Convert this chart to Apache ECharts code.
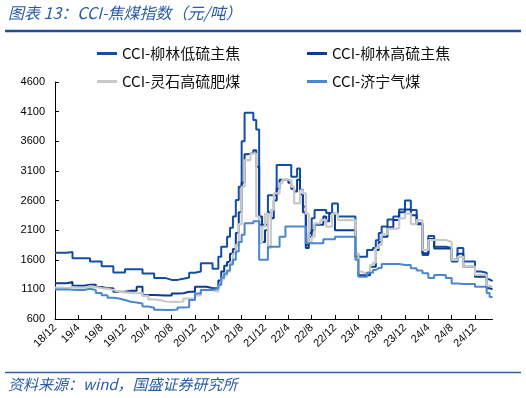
<!DOCTYPE html>
<html><head><meta charset="utf-8">
<script src="https://cdn.jsdelivr.net/npm/echarts@6/dist/echarts.min.js"></script>
<style>html,body{margin:0;padding:0;background:#fff}#c{width:526px;height:398px}</style>
</head><body><div id="c"></div>
<script>
// ---- data ----
const seriesNames = ['CCI-柳林低硫主焦', 'CCI-柳林高硫主焦', 'CCI-灵石高硫肥煤', 'CCI-济宁气煤'];
const xTickLabels = ['18/12','19/4','19/8','19/12','20/4','20/8','20/12','21/4','21/8','21/12','22/4','22/8','22/12','23/4','23/8','23/12','24/4','24/8','24/12'];
const dates = [
 '2018-12-01','2019-01-01','2019-02-01','2019-03-01','2019-04-01','2019-05-01','2019-06-01','2019-07-01','2019-08-01','2019-09-01','2019-10-01','2019-11-01','2019-12-01',
 '2020-01-01','2020-02-01','2020-03-01','2020-04-01','2020-05-01','2020-06-01','2020-07-01','2020-08-01','2020-09-01','2020-10-01','2020-11-01','2020-12-01',
 '2021-01-01','2021-02-01','2021-03-01',
 '2021-04-01','2021-04-16','2021-05-01','2021-05-16','2021-06-01','2021-06-16','2021-07-01','2021-07-16','2021-08-01','2021-08-16','2021-09-01','2021-09-16',
 '2021-10-01','2021-10-16','2021-11-01','2021-11-16','2021-12-01','2021-12-16','2022-01-01','2022-01-16','2022-02-01','2022-02-16','2022-03-01','2022-03-16',
 '2022-04-01','2022-04-16','2022-05-01','2022-05-16','2022-06-01','2022-06-16','2022-07-01','2022-07-16','2022-08-01','2022-08-16','2022-09-01','2022-09-16',
 '2022-10-01','2022-10-16','2022-11-01','2022-11-16','2022-12-01','2022-12-16','2023-01-01','2023-01-16','2023-02-01','2023-02-16','2023-03-01','2023-03-16',
 '2023-04-01','2023-04-16','2023-05-01','2023-05-16','2023-06-01','2023-06-16','2023-07-01','2023-07-16',
 '2023-08-01','2023-09-01','2023-10-01','2023-11-01','2023-12-01','2024-01-01','2024-02-01','2024-03-01','2024-04-01','2024-05-01','2024-06-01','2024-07-01',
 '2024-08-01','2024-09-01','2024-10-01','2024-11-01','2024-12-01','2025-01-01','2025-02-01','2025-02-16','2025-03-01'
];
const liulinLow = [
 1720,1720,1730,1625,1625,1625,1570,1570,1490,1490,1385,1385,1440,1440,1440,1370,1370,1290,1290,1260,1260,1280,1300,1380,1400,1540,1540,1450,
 1650,1820, 1820,1990, 2140,2330, 2610,2830, 3600,4080, 4080,4080, 3960,3800, 2190,2190, 2190,2690, 2690,2690, 3200,3200, 3200,3200, 3200,3000,
 3000,3140, 2780,2500, 1850,2050, 2300,2440, 2440,2440, 2440,2390, 2390,2550, 2550,2330, 2330,2330, 2330,2330, 2330,1650, 1650,1650, 1650,1765,
 1765,1800, 1930,2050,
 2160,2280,2330,2450,2600,2440,2215,1680,2000,1820,1820,1800,1570,1800,1570,1570,1400,1380,1270,1240,1240
];
const liulinHigh = [
 1205,1205,1225,1160,1160,1180,1180,1140,1120,1118,1062,1062,1078,1078,1146,1005,1005,1000,995,995,1030,1034,1060,1060,1145,1145,1118,1118,
 1250,1400, 1500,1560, 1700,1780, 2050,2400, 2900,3380, 3390,3400, 3450,3170, 2330,1900, 2100,2400, 2300,2600, 2800,2950, 2950,2950, 2900,2800,
 2750,2950, 2700,2400, 1800,1990, 2100,2190, 2190,2190, 2330,2250, 2380,2380, 2100,2100, 2100,2100, 2100,2100, 2100,1700, 1340,1340, 1340,1340,
 1480,1480, 1765,1900,
 1990,2150,2270,2400,2450,2350,2200,1709,1950,1790,1790,1790,1600,1700,1483,1483,1314,1314,1120,1100,1100
];
const lingshi = [
 1130,1120,1140,1130,1130,1150,1140,1120,1110,1090,1060,1050,1040,1035,1040,990,930,920,895,890,890,895,945,950,1000,1090,1090,1060,
 1170,1270, 1340,1400, 1550,1700, 1850,2200, 2830,3280, 3280,3390, 3390,2330, 1880,2160, 2380,1800, 2440,2720, 2720,2890, 2950,2950, 2950,2830,
 2550,2550, 2770,2720, 2380,1900, 1990,2215, 2215,2270, 2270,2160, 2160,2380, 2380,2270, 2270,2270, 2270,2270, 2270,1700, 1400,1380, 1380,1400,
 1510,1550, 1800,1850,
 2030,2120,2130,2300,2380,2200,2270,1765,1933,1933,1933,1900,1596,1650,1483,1483,1343,1340,1160,1140,1140
];
const jining = [
 1100,1100,1095,1090,1090,1110,1090,1040,1000,960,945,920,890,880,860,810,790,755,750,750,760,795,800,920,1030,1090,1090,1115,
 1180,1300, 1370,1420, 1520,1600, 1740,1900, 2020,2215, 2215,2215, 2250,2250, 1600,1600, 1600,1820, 1820,1820, 1820,1990, 1990,2160, 2160,2160,
 2160,2160, 2160,2160, 1880,1880, 1880,1880, 1880,1880, 1945,1945, 1945,1945, 1990,1990, 1990,1990, 1990,1990, 1990,1600, 1314,1314, 1314,1380,
 1380,1427, 1460,1460,
 1530,1530,1530,1510,1510,1456,1420,1371,1290,1343,1343,1290,1200,1190,1190,1190,1146,1146,1040,970,970
];
const colors = ['#124EA4', '#0B3C8F', '#C9C9C9', '#4B87D0'];

// ---- helpers ----
function monthIndex(d) {
  const [y, m, day] = d.split('-').map(Number);
  return (y - 2018) * 12 + (m - 12) + (day - 1) / 30;
}
const xs = dates.map(monthIndex);
const tickValues = xTickLabels.map((_, i) => i * 4);
const allSeries = [liulinLow, liulinHigh, lingshi, jining];

const chart = echarts.init(document.getElementById('c'), null, {renderer: 'canvas'});
const legendPos = [[97, 46], [307, 46], [97, 74], [307, 74]];
const font = '"Noto Sans CJK SC", "Noto Sans", sans-serif';
chart.setOption({
  animation: false,
  backgroundColor: '#fff',
  grid: {left: 55, right: 33.5, top: 82, bottom: 79, containLabel: false},
  legend: seriesNames.map((n, i) => ({
    data: [n], left: legendPos[i][0], top: legendPos[i][1],
    icon: 'rect', itemWidth: 20, itemHeight: 3, padding: 0,
    textStyle: {fontSize: 15, color: '#111', fontFamily: font}
  })),
  xAxis: {
    type: 'value', min: 0, max: 75, interval: 4,
    splitLine: {show: false},
    axisLine: {lineStyle: {color: '#000', width: 1}},
    axisTick: {inside: true, length: 4, lineStyle: {color: '#000'}, customValues: tickValues},
    axisLabel: {
      rotate: 45, fontSize: 11, color: '#000', margin: 7, fontFamily: 'Liberation Sans, Arial, sans-serif',
      customValues: tickValues,
      formatter: v => { const k = Math.round(v / 4); return (Math.abs(v - k * 4) < 1e-6 && xTickLabels[k]) ? xTickLabels[k] : ''; }
    }
  },
  yAxis: {
    type: 'value', min: 600, max: 4600, interval: 500,
    splitLine: {show: false},
    axisLine: {show: true, lineStyle: {color: '#000', width: 1}},
    axisTick: {show: true, inside: true, length: 4, lineStyle: {color: '#000'}},
    axisLabel: {fontSize: 11, color: '#000', margin: 10, fontFamily: 'Liberation Sans, Arial, sans-serif', formatter: v => String(v)}
  },
  series: allSeries.map((vals, i) => ({
    name: seriesNames[i], type: 'line', step: 'end', showSymbol: false, symbol: 'none',
    data: vals.map((v, j) => [xs[j], v]),
    lineStyle: {color: colors[i], width: i === 2 ? 2.2 : 2},
    itemStyle: {color: colors[i]}
  })),
  graphic: [
    {type: 'text', left: 8, top: 5, style: {text: '图表 13：CCI-焦煤指数（元/吨）', fontSize: 16, fontStyle: 'italic', fill: '#2A5CAA', fontFamily: font}},
    {type: 'line', shape: {x1: 5, y1: 31, x2: 521, y2: 31}, style: {stroke: '#1F4E9C', lineWidth: 2.5}},
    {type: 'line', shape: {x1: 5, y1: 372.5, x2: 521, y2: 372.5}, style: {stroke: '#2E5FA8', lineWidth: 1.5}},
    {type: 'text', left: 8, top: 377, style: {text: '资料来源：wind，国盛证券研究所', fontSize: 15, fontStyle: 'italic', fill: '#2A5CAA', fontFamily: font}}
  ]
});
</script>
</body></html>
